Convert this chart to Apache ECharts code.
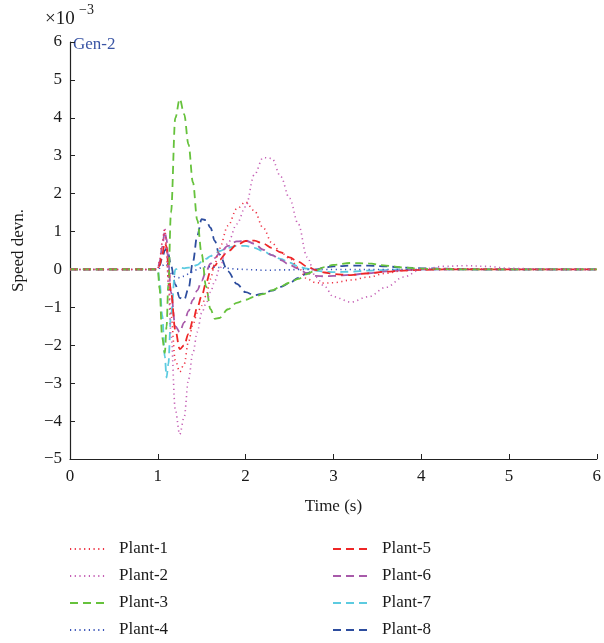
<!DOCTYPE html>
<html>
<head>
<meta charset="utf-8">
<script src="https://cdn.jsdelivr.net/npm/echarts@6/dist/echarts.min.js"></script>
<style>html,body{margin:0;padding:0;background:#fff}#c{width:604px;height:643px}</style>
</head>
<body>
<div id="c"></div>
<script>
// time grid (s)
const time = [0, 1.0, 1.02, 1.05, 1.08, 1.1, 1.12, 1.15, 1.2, 1.25, 1.3, 1.35, 1.4, 1.45, 1.5, 1.55, 1.6, 1.65, 1.7, 1.8, 1.9, 2.0, 2.1, 2.2, 2.3, 2.4, 2.5, 2.6, 2.7, 2.8, 2.9, 3.0, 3.2, 3.4, 3.6, 3.8, 4.0, 4.25, 4.5, 4.75, 5.0, 5.5, 6.0];
// speed deviation (x10^-3)
const plant1 = [0,0,0.2,0.7,1.05,0.5,-0.3,-1.2,-2.4,-2.7,-2.5,-1.9,-1.45,-1.15,-0.95,-0.7,-0.25,0.15,0.55,1.15,1.6,1.78,1.55,1.1,0.7,0.45,0.3,0.05,-0.25,-0.35,-0.36,-0.35,-0.28,-0.2,-0.1,-0.03,0,0.02,0.02,0.01,0,0,0];
const plant2 = [0,0,0.2,0.7,1.1,0.6,-0.4,-1.7,-3.7,-4.35,-3.9,-2.9,-2.2,-1.65,-1.15,-0.9,-0.6,-0.3,0.0,0.7,1.2,1.65,2.5,2.95,2.93,2.45,1.88,1.2,0.33,-0.2,-0.45,-0.72,-0.86,-0.72,-0.47,-0.2,0.0,0.08,0.1,0.08,0.03,0,0];
const plant3 = [0,0,-0.5,-1.8,-2.2,-1.5,-0.4,1.5,4.0,4.5,4.1,3.3,2.3,1.3,0.4,-0.45,-1.05,-1.3,-1.28,-1.05,-0.88,-0.8,-0.72,-0.65,-0.55,-0.45,-0.35,-0.25,-0.12,-0.02,0.06,0.12,0.17,0.16,0.1,0.05,0.02,0.01,0,0,0,0,0];
const plant4 = [0,0,0.03,0.1,0.15,0.12,0.03,-0.1,-0.2,-0.22,-0.18,-0.12,-0.06,0,0.05,0.07,0.07,0.06,0.05,0.03,0.01,0,-0.01,-0.02,-0.02,-0.01,-0.01,0,0,0,0,0,0,0,0,0,0,0,0,0,0,0,0];
const plant5 = [0,0,0.1,0.4,0.7,0.6,0.1,-0.6,-1.6,-2.1,-2.0,-1.7,-1.35,-1.0,-0.7,-0.35,-0.05,0.1,0.25,0.48,0.65,0.75,0.76,0.68,0.57,0.45,0.32,0.2,0.08,-0.02,-0.08,-0.12,-0.15,-0.1,-0.06,-0.03,-0.01,0,0,0,0,0,0];
const plant6 = [0,0,0.2,0.6,1.0,0.8,0.2,-0.6,-1.5,-1.65,-1.4,-1.1,-0.8,-0.55,-0.3,-0.05,0.15,0.3,0.42,0.62,0.74,0.76,0.68,0.52,0.38,0.25,0.12,0.02,-0.1,-0.17,-0.18,-0.17,-0.14,-0.1,-0.05,-0.02,0,0,0,0,0,0,0];
const plant7 = [0,0,-0.3,-1.2,-2.3,-2.85,-2.5,-1.2,0,0.05,0.03,0.05,0.08,0.12,0.2,0.28,0.35,0.42,0.48,0.57,0.62,0.62,0.57,0.48,0.38,0.28,0.18,0.08,0.02,-0.03,-0.06,-0.07,-0.06,-0.03,-0.01,0,0,0,0,0,0,0,0];
const plant8 = [0,0,0.1,0.3,0.5,0.55,0.4,0.1,-0.4,-0.75,-0.8,-0.5,0.2,0.9,1.33,1.3,1.1,0.75,0.4,-0.05,-0.38,-0.6,-0.68,-0.64,-0.56,-0.46,-0.36,-0.22,-0.1,0,0.05,0.08,0.1,0.1,0.08,0.05,0.03,0.02,0.01,0,0,0,0];
const xTicks = [0, 1, 2, 3, 4, 5, 6];
const yTicks = [-5, -4, -3, -2, -1, 0, 1, 2, 3, 4, 5, 6];

const names = ['Plant-1','Plant-2','Plant-3','Plant-4','Plant-5','Plant-6','Plant-7','Plant-8'];
const values = [plant1, plant2, plant3, plant4, plant5, plant6, plant7, plant8];
const colors = ['#ee3344','#c560b5','#66c23c','#3a55b8','#ee2626','#a85aaa','#5ccbe0','#2d4d9e'];
const dots = [1.2, 3.5];
const dash = [8, 5];
const types = [dots, dots, dash, dots, dash, dash, dash, dash];

const FONT = 'Liberation Serif';
const series = names.map((n, i) => ({
  name: n, type: 'line', symbol: 'none', smooth: 0.35, smoothMonotone: 'x',
  data: time.map((t, k) => [t, values[i][k]]),
  lineStyle: { color: colors[i], width: types[i] === dash ? 1.8 : 1.6, type: types[i] },
  itemStyle: { color: colors[i] },
  z: 10 - i
}));

const minusFmt = v => String(v).replace('-', '\u2212');
const chart = echarts.init(document.getElementById('c'), null, { renderer: 'canvas' });
const legendCommon = {
  orient: 'vertical', itemWidth: 35, itemHeight: 10, itemGap: 9, padding: 0, height: 140,
  itemStyle: { opacity: 0 },
  textStyle: { fontFamily: FONT, fontSize: 17, color: '#1a1a1a', lineHeight: 18, padding: [0, 0, 0, 9] }
};
chart.setOption({
  animation: false,
  backgroundColor: '#fff',
  grid: { left: 70, right: 5, top: 42, bottom: 184, containLabel: false },
  xAxis: {
    type: 'value', min: 0, max: 6, interval: 1,
    name: 'Time (s)', nameLocation: 'middle', nameGap: 39,
    nameTextStyle: { fontFamily: FONT, fontSize: 17, color: '#1a1a1a' },
    axisLine: { show: true, onZero: false, lineStyle: { color: '#222', width: 1.2 } },
    axisTick: { show: true, inside: true, length: 5, lineStyle: { color: '#222' } },
    axisLabel: { fontFamily: FONT, fontSize: 17, color: '#1a1a1a', margin: 9, formatter: minusFmt },
    splitLine: { show: false }
  },
  yAxis: {
    type: 'value', min: -5, max: 6, interval: 1,
    name: 'Speed devn.', nameLocation: 'middle', nameGap: 43,
    nameTextStyle: { fontFamily: FONT, fontSize: 17, color: '#1a1a1a' },
    axisLine: { show: true, onZero: false, lineStyle: { color: '#222', width: 1.2 } },
    axisTick: { show: true, inside: true, length: 5, lineStyle: { color: '#222' } },
    axisLabel: { fontFamily: FONT, fontSize: 17, color: '#1a1a1a', margin: 8, formatter: minusFmt },
    splitLine: { show: false }
  },
  legend: [
    Object.assign({}, legendCommon, { left: 69, top: 540, data: names.slice(0, 4) }),
    Object.assign({}, legendCommon, { left: 332, top: 540, data: names.slice(4) })
  ],
  graphic: [
    { type: 'text', left: 45, top: 10, style: { text: '\u00d710', fill: '#1a1a1a', fontFamily: FONT, fontSize: 19 } },
    { type: 'text', left: 79, top: 3, style: { text: '\u22123', fill: '#1a1a1a', fontFamily: FONT, fontSize: 14 } },
    { type: 'text', left: 73, top: 36, style: { text: 'Gen-2', fill: '#3a55a5', fontFamily: FONT, fontSize: 17 } }
  ],
  series: series
});
</script>
</body>
</html>
